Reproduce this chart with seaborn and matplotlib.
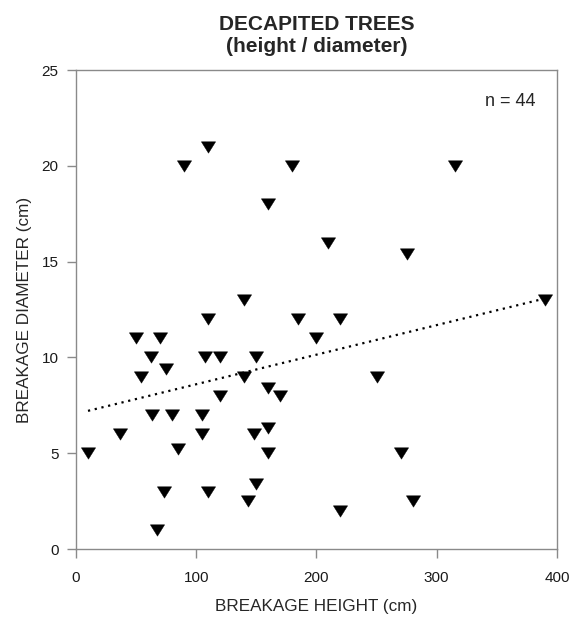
import matplotlib
matplotlib.use("Agg")
import matplotlib.pyplot as plt
from matplotlib.path import Path
import numpy as np
import pandas as pd
import seaborn as sns

# Breakage height (cm) and breakage diameter (cm) of decapitated trees
breakage_height = [110, 90, 180, 160, 140, 315, 210, 275, 390, 110,
                   185, 200, 50, 70, 62, 107, 120, 150, 75, 54,
                   140, 160, 120, 170, 63, 80, 105, 37, 105, 148,
                   160, 10, 85, 160, 150, 73, 110, 143, 67, 250,
                   270, 280, 220, 220]
breakage_diameter = [21, 20, 20, 18, 13, 20, 16, 15.4, 13, 12,
                     12, 11, 11, 11, 10, 10, 10, 10, 9.4, 9,
                     9, 8.4, 8, 8, 7, 7, 7, 6, 6, 6,
                     6.3, 5, 5.2, 5, 3.4, 3, 3, 2.5, 1, 9,
                     5, 2.5, 2, 12]

x_ticks = [0, 100, 200, 300, 400]
y_ticks = [0, 5, 10, 15, 20, 25]

df = pd.DataFrame({"height": breakage_height, "diameter": breakage_diameter})

sns.set_style("white")
plt.rcParams["font.family"] = ["Liberation Sans", "DejaVu Sans"]

fig = plt.figure(figsize=(5.7, 6.17), dpi=100)
ax = fig.add_axes([0.1333, 0.110, 0.8437, 0.7765])

# downward triangle, a little wider than tall
tri = Path([(-1.0, 0.8), (1.0, 0.8), (0.0, -0.8), (-1.0, 0.8)],
           [Path.MOVETO, Path.LINETO, Path.LINETO, Path.CLOSEPOLY])

sns.scatterplot(data=df, x="height", y="diameter", marker=tri, s=105,
                color="black", edgecolor="black", linewidth=0.3, ax=ax, zorder=3)
sns.regplot(data=df, x="height", y="diameter", scatter=False, ci=None,
            color="black", ax=ax,
            line_kws=dict(linewidth=1.6, linestyle=(0, (1, 2.1))))

ax.set_xlim(0, 400)
ax.set_ylim(0, 25)
ax.set_xticks(x_ticks)
ax.set_yticks(y_ticks)

gray = "#8a8a8a"
for sp in ax.spines.values():
    sp.set_visible(True)
    sp.set_color(gray)
    sp.set_linewidth(1.0)
ax.tick_params(axis="both", direction="out", length=6.5, width=1.0, color=gray,
               labelsize=11, labelcolor="#1a1a1a", bottom=True, left=True)
ax.tick_params(axis="x", pad=9)
ax.tick_params(axis="y", pad=6)

ax.set_xlabel("BREAKAGE HEIGHT (cm)", fontsize=12.3, labelpad=10)
ax.set_ylabel("BREAKAGE DIAMETER (cm)", fontsize=12.3, labelpad=7)
ax.set_title("DECAPITED TREES\n(height / diameter)", fontsize=15,
             fontweight="bold", pad=13, linespacing=1.2)

ax.text(0.955, 0.935, "n = 44", transform=ax.transAxes, ha="right", va="center",
        fontsize=13)

fig.savefig("out.png", dpi=100)
